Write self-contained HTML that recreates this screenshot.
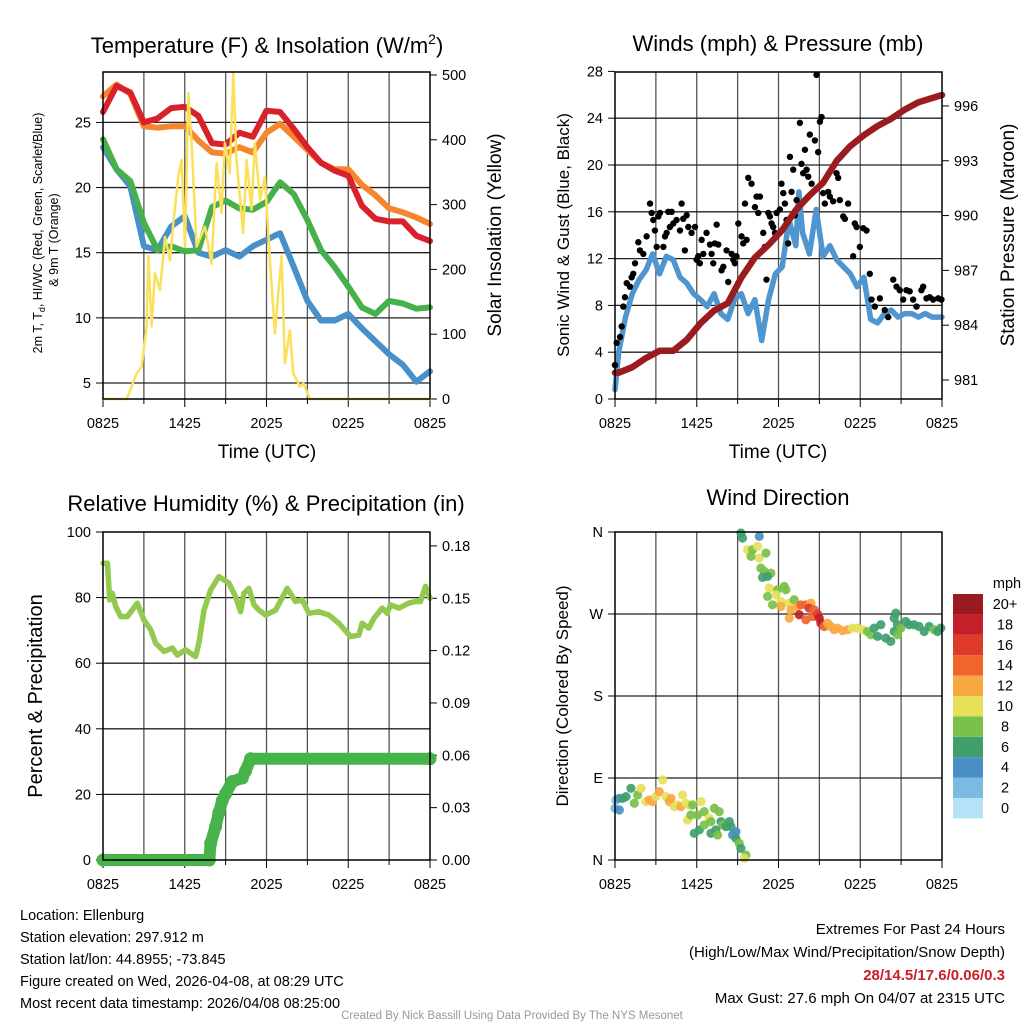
<!DOCTYPE html>
<html><head><meta charset="utf-8"><title>Mesonet Station Charts</title>
<style>
html,body{margin:0;padding:0;background:#fff;}
svg{display:block;font-family:"Liberation Sans",Arial,sans-serif;}
</style></head>
<body>
<svg id="chart" width="1024" height="1024" viewBox="0 0 1024 1024" xmlns="http://www.w3.org/2000/svg">
<rect x="0" y="0" width="1024" height="1024" fill="#fff"/>
<g id="g1"></g>
<g id="g2"></g>
<g id="g3"></g>
<g id="g4"></g>
<text x="267" y="53" font-size="22" text-anchor="middle">Temperature (F) &amp; Insolation (W/m<tspan dy="-9" font-size="14">2</tspan><tspan dy="9">)</tspan></text>
<text x="778" y="51" font-size="22" text-anchor="middle">Winds (mph) &amp; Pressure (mb)</text>
<text x="266" y="511" font-size="22" text-anchor="middle">Relative Humidity (%) &amp; Precipitation (in)</text>
<text x="778" y="505" font-size="22" text-anchor="middle">Wind Direction</text>
<text x="267" y="458" font-size="19" text-anchor="middle">Time (UTC)</text>
<text x="778" y="458" font-size="19" text-anchor="middle">Time (UTC)</text>
<text transform="translate(42,233) rotate(-90)" font-size="12.5" text-anchor="middle">2m T, T<tspan dy="3" font-size="9">d</tspan><tspan dy="-3">, HI/WC (Red, Green, Scarlet/Blue)</tspan></text>
<text transform="translate(58,240) rotate(-90)" font-size="12.5" text-anchor="middle">&amp; 9m T (Orange)</text>
<text transform="translate(501,235) rotate(-90)" font-size="19" text-anchor="middle">Solar Insolation (Yellow)</text>
<text transform="translate(569,235) rotate(-90)" font-size="17" text-anchor="middle">Sonic Wind &amp; Gust (Blue, Black)</text>
<text transform="translate(1014,235) rotate(-90)" font-size="19" text-anchor="middle">Station Pressure (Maroon)</text>
<text transform="translate(42,696) rotate(-90)" font-size="20" text-anchor="middle">Percent &amp; Precipitation</text>
<text transform="translate(568,696) rotate(-90)" font-size="17" text-anchor="middle">Direction (Colored By Speed)</text>
<g font-size="14.5">
<text x="20" y="920">Location: Ellenburg</text>
<text x="20" y="942">Station elevation: 297.912 m</text>
<text x="20" y="964">Station lat/lon: 44.8955; -73.845</text>
<text x="20" y="986">Figure created on Wed, 2026-04-08, at 08:29 UTC</text>
<text x="20" y="1008">Most recent data timestamp: 2026/04/08 08:25:00</text>
</g>
<g font-size="15" text-anchor="end">
<text x="1005" y="934">Extremes For Past 24 Hours</text>
<text x="1005" y="957">(High/Low/Max Wind/Precipitation/Snow Depth)</text>
<text x="1005" y="980" fill="#c8202a" font-weight="bold">28/14.5/17.6/0.06/0.3</text>
<text x="1005" y="1003">Max Gust: 27.6 mph On 04/07 at 2315 UTC</text>
</g>
<text x="512" y="1019" font-size="11.5" fill="#999" text-anchor="middle">Created By Nick Bassill Using Data Provided By The NYS Mesonet</text>
<g id="legend"></g>
</svg>
<script>
// ---------- DATA ----------
const tHours = [0,1,2,3,4,5,6,7,8,9,10,11,12,13,14,15,16,17,18,19,20,21,22,23,24];
const tempRed = [25.8,27.8,27.3,25.0,25.3,26.1,26.2,25.5,23.4,23.3,24.2,23.9,25.9,25.8,24.5,23.1,21.9,21.3,20.9,18.6,17.6,17.4,17.4,16.3,15.9];
const tempOrange = [27.0,27.9,27.2,24.7,24.6,24.7,24.7,23.6,22.7,22.6,23.1,22.7,24.2,24.9,23.9,22.9,21.9,21.4,21.4,20.2,19.4,18.4,18.1,17.7,17.2];
const dewGreen = [23.7,21.4,20.5,17.3,15.2,15.5,15.1,15.2,18.5,19.0,18.4,18.3,18.9,20.4,19.5,17.5,15.2,13.9,12.4,10.8,10.3,11.3,11.1,10.7,10.8];
const chillBlue = [23.1,21.4,20.1,15.5,15.2,17.0,17.8,15.0,14.7,15.2,14.7,15.5,16.0,16.5,13.9,11.3,9.8,9.8,10.3,9.2,8.2,7.2,6.4,5.1,5.9];
const solarHours = [0,1.74,2.47,2.84,3.2,3.33,3.57,3.81,4.18,4.55,4.92,5.16,5.53,5.77,6.02,6.26,6.5,6.87,7.48,7.97,8.34,8.7,8.95,9.31,9.56,9.8,10.29,10.54,10.9,11.15,11.52,11.88,12.25,12.62,12.86,13.11,13.35,13.72,13.96,14.45,14.7,15.19,24];
const solar = [0,0,40,50,112,220,112,194,168,250,214,271,343,369,235,472,395,235,266,209,364,287,395,348,503,369,256,369,292,395,307,343,214,101,163,220,55,106,40,19,24,0,0];

const pressHours = [0,0.27,1.27,2.27,3.27,4.27,5.27,6.27,7.27,8.27,9.27,10.27,11.27,12.27,13.27,14.27,15.27,16.27,17.27,18.27,19.27,20.27,21.27,22.27,24];
const pressure = [981.4,981.4,981.7,982.2,982.6,982.6,983.2,984.1,984.8,985.2,986.6,987.7,988.4,989.2,990.3,991.1,991.8,993.0,993.8,994.4,994.9,995.3,995.8,996.2,996.6];
const windHours = [0,0.27,0.77,1.27,1.77,2.27,2.77,3.27,3.77,4.27,4.77,5.27,5.77,6.27,6.77,7.27,7.77,8.27,8.77,9.27,9.77,10.27,10.77,11.27,11.77,12.27,12.77,13.27,13.5,13.77,14.27,14.77,15.27,15.77,16.27,16.77,17.27,17.77,18.27,18.77,19.27,19.77,20.27,20.77,21.27,21.77,22.27,22.77,23.27,24];
const windSpeed = [0.8,4.0,7.0,9.0,10.2,11.0,12.4,10.7,12.2,11.9,10.4,9.9,9.0,8.5,7.9,9.0,7.3,6.8,8.5,9.0,7.3,8.5,5.0,8.5,10.7,11.3,15.3,13.1,17.7,14.2,12.4,16.2,12.2,13.1,11.9,11.3,10.7,9.6,10.4,6.8,6.5,7.3,7.6,7.0,7.3,7.3,7.0,7.3,7.0,7.0];
const gustHours = [0,.12,.37,.49,.61,.73,.86,1.1,1.22,1.34,1.47,1.71,1.83,2.08,2.32,2.57,2.69,2.81,2.93,3.06,3.18,3.3,3.55,3.67,3.79,3.91,4.03,4.16,4.28,4.52,4.77,4.89,5.01,5.13,5.26,5.38,5.62,5.87,5.99,6.11,6.23,6.36,6.48,6.72,6.97,7.09,7.21,7.33,7.46,7.58,7.82,7.95,8.19,8.31,8.56,8.68,8.8,8.92,9.05,9.29,9.41,9.54,9.66,9.78,10.02,10.27,10.39,10.51,10.64,10.88,11.0,11.12,11.25,11.37,11.49,11.61,11.74,11.86,12.1,12.22,12.35,12.47,12.59,12.71,12.84,12.96,13.08,13.2,13.33,13.45,13.57,13.69,13.81,13.94,14.06,14.18,14.3,14.43,14.67,14.79,14.91,15.04,15.16,15.28,15.4,15.65,15.77,16.01,16.26,16.38,16.5,16.75,16.87,17.11,17.48,17.6,17.73,17.97,18.22,18.46,18.7,18.83,19.07,19.44,19.8,20.05,20.42,20.66,20.9,21.15,21.39,21.63,21.88,22.13,22.49,22.62,22.86,23.1,23.35,23.72,23.96];
const gust = [2.9,4.8,5.3,6.2,7.9,8.7,9.9,9.6,10.4,10.7,11.6,13.4,12.7,12.4,13.9,16.7,15.9,15.3,14.4,13.0,15.6,15.9,13.0,13.9,14.2,16.0,14.7,16.0,15.0,15.3,14.4,16.7,15.4,12.7,15.7,14.7,14.2,14.7,11.9,12.2,11.6,13.6,12.4,14.2,13.2,12.4,11.6,13.3,14.9,13.2,11.0,11.3,12.7,10.0,12.4,11.9,11.6,12.2,15.0,13.9,13.3,16.7,13.6,18.9,18.4,16.4,17.3,15.9,17.3,14.2,13.0,10.2,15.9,15.6,15.0,14.7,14.2,15.9,16.2,18.4,17.6,16.7,15.3,13.3,20.7,17.7,19.6,15.7,17.0,16.4,23.6,20.1,19.3,21.3,19.6,19.0,22.6,18.4,22.1,27.7,21.1,23.7,24.1,17.6,16.7,17.7,17.3,16.9,19.3,18.9,17.0,15.6,15.4,16.7,12.2,15.0,14.7,13.0,14.6,14.4,10.7,8.5,7.9,8.6,7.6,7.0,10.2,9.6,9.3,8.5,9.3,9.2,8.5,7.9,9.3,9.6,8.6,8.7,8.5,8.6,8.5];

const rhHours = [0,.32,.49,.68,.93,1.3,1.78,2.52,3.0,3.5,3.86,4.47,5.09,5.45,6.06,6.8,7.04,7.41,7.9,8.51,9.24,9.73,10.1,10.34,10.71,11.08,11.44,11.93,12.67,13.52,14.13,14.62,15.11,15.84,16.58,17.31,18.17,18.78,19.02,19.51,19.88,20.49,20.86,21.1,21.71,22.44,22.93,23.3,23.67,24];
const rh = [90.5,90.5,79.3,81.3,77.3,74.2,74.2,78.3,73.2,70.2,66.1,63.6,64.6,62.5,64.1,62.0,66.1,76.2,82.3,86.4,84.4,80.3,75.7,81.3,82.8,77.8,76.2,74.7,76.2,82.8,78.8,79.3,75.2,75.7,74.7,72.2,68.1,68.6,72.2,70.7,73.7,76.8,75.2,77.8,76.8,78.3,78.8,78.8,83.4,79.8];
const precipHours = [0,7.8,7.9,8.26,8.5,8.75,9.0,9.49,10.22,10.46,10.83,24];
const precip = [0,0,0.0095,0.019,0.027,0.034,0.038,0.045,0.047,0.051,0.058,0.058];

const dirHours = [0,0.07,0.32,0.32,0.56,0.81,1.17,1.42,1.66,1.91,2.27,2.52,2.76,3.0,3.25,3.5,3.74,3.99,4.11,4.35,4.6,4.84,4.96,5.21,5.45,5.7,5.33,5.57,6.06,6.31,6.55,6.92,7.04,7.29,7.65,7.78,7.9,8.14,8.39,8.51,8.63,8.88,8.88,9.12,9.24,9.61,9.49,5.82,6.19,6.55,7.04,7.41,7.53,
 9.24,9.36,10.59,9.73,10.1,10.46,10.59,9.98,11.08,10.71,10.95,11.44,10.83,11.2,11.32,11.93,12.42,12.54,11.2,11.81,12.18,11.56,12.18,12.79,13.15,13.4,13.64,14.01,14.38,12.91,12.79,13.52,14.01,14.25,14.62,14.5,14.87,14.99,15.11,15.35,15.6,15.84,16.09,16.33,16.7,17.07,17.43,17.8,18.17,18.53,18.78,19.02,19.27,19.51,19.88,20.24,20.49,20.61,20.73,20.98,21.34,21.59,21.96,22.32,22.69,23.06,23.42,23.67,23.91,20.49,20.73];
const dirDeg = [56.8,65.9,54.9,67.7,67.7,69.6,78.7,62.3,71.4,78.7,64.1,65.9,64.1,69.6,75.1,87.9,69.6,64.1,67.7,58.6,60.4,58.6,71.4,62.3,60.4,60.4,43.9,49.4,49.4,64.1,53.1,45.8,42.1,56.8,53.1,42.1,38.5,36.6,42.1,36.6,27.5,31.1,23.8,18.3,12.8,5.5,1.8,29.3,33.0,38.5,29.3,33.0,27.5,
 358.9,353.4,355.2,340.6,340.6,344.2,331.4,333.2,336.9,320.4,316.8,314.9,310.2,311.3,298.5,296.6,300.3,296.6,289.3,291.1,283.8,280.1,278.3,282.0,285.6,278.3,280.1,280.1,282.0,274.6,265.5,269.2,263.7,276.5,274.6,267.3,269.9,265.5,260.0,256.3,260.0,256.3,252.7,254.5,251.6,252.7,254.5,254.5,252.7,250.8,247.2,254.5,245.4,258.2,243.5,239.9,250.8,271.0,258.2,254.5,261.8,258.2,258.2,256.3,250.8,256.3,252.7,250.8,254.5,265.5,247.2];
const dirSpeed = [2,3,4,4,6,6,7,8,9,10,10,12,13,10,12,10,10,12,13,11,10,13,11,10,10,9,10,8,8,10,9,10,8,8,8,7,8,6,6,6,5,4,6,8,7,8,10,6,7,8,6,7,8,
 7,7,4,10,8,10,10,8,8,8,8,8,6,6,10,8,8,8,8,10,10,8,12,10,8,12,14,14,12,12,12,18,15,16,14,14,17,18,18,14,12,12,12,12,12,12,10,10,10,9,8,6,6,7,6,6,7,6,7,8,6,6,6,7,7,6,8,6,6,6,8];
const legendLabels = ["0","2","4","6","8","10","12","14","16","18","20+"];
const legendColors = ["#b6e3f8","#7cb9e3","#4a8fc6","#3f9f6c","#7ac04a","#e6e05a","#f8a843","#f0652c","#e03a2c","#c3202a","#9a1b1f"];

// ---------- HELPERS ----------
const NS = "http://www.w3.org/2000/svg";
function mk(parent, tag, attrs){ const e=document.createElementNS(NS,tag); for(const k in attrs) e.setAttribute(k,attrs[k]); parent.appendChild(e); return e; }
const xTickLabels = ["0825","1425","2025","0225","0825"];
function timeX(p){ return h => p.x0 + h/24*(p.x1-p.x0); }

function frame(g, p, name){
  for(let i=1;i<8;i++){ const x=p.x0+i*(p.x1-p.x0)/8;
    const l=mk(g,'line',{x1:x,x2:x,y1:p.y0,y2:p.y1,stroke:'#555','stroke-width':1.3});
    
    
  }
  for(let i=0;i<=8;i++){ const x=p.x0+i*(p.x1-p.x0)/8;
    mk(g,'line',{x1:x,x2:x,y1:p.y1,y2:p.y1+(i%2===0?8:5),stroke:'#000','stroke-width':1});
  }
  for(let i=0;i<5;i++){ const x=p.x0+i*(p.x1-p.x0)/4;
    const t=mk(g,'text',{x:x,y:p.y1+29,'font-size':14.5,'text-anchor':'middle'}); t.textContent=xTickLabels[i];
    
    
  }
}
function border(g,p){ mk(g,'rect',{x:p.x0,y:p.y0,width:p.x1-p.x0,height:p.y1-p.y0,fill:'none',stroke:'#000','stroke-width':1.5}); }
function hgrid(g,p,vals,fy,labels,name){
  vals.forEach((v,i)=>{ const y=fy(v);
    if(y>p.y0+1 && y<p.y1-1) mk(g,'line',{x1:p.x0,x2:p.x1,y1:y,y2:y,stroke:'#222','stroke-width':1.3});
    mk(g,'line',{x1:p.x0-7,x2:p.x0,y1:y,y2:y,stroke:'#000','stroke-width':1});
    const t=mk(g,'text',{x:p.x0-12,y:y+5,'font-size':14.5,'text-anchor':'end'}); t.textContent=labels[i];
    
    
  });
}
function rightAxis(g,p,vals,fy,labels,name){
  vals.forEach((v,i)=>{ const y=fy(v);
    mk(g,'line',{x1:p.x1,x2:p.x1+7,y1:y,y2:y,stroke:'#000','stroke-width':1});
    const t=mk(g,'text',{x:p.x1+12,y:y+5,'font-size':14.5,'text-anchor':'start'}); t.textContent=labels[i];
    
    
  });
}
function path(g,xs,ys,fx,fy,stroke,w,name){
  let d=''; for(let i=0;i<Math.min(xs.length,ys.length);i++){ d+=(i?'L':'M')+fx(xs[i]).toFixed(1)+','+fy(ys[i]).toFixed(1); }
  const e=mk(g,'path',{d:d,fill:'none',stroke:stroke,'stroke-width':w,'stroke-linejoin':'round','stroke-linecap':'round'});
  
  
  return e;
}

// ---------- PANEL 1 ----------
(function(){
  const g=document.getElementById('g1'); const p={x0:103,x1:430,y0:72,y1:399};
  const fx=timeX(p); const fy=T=>383-(T-5)*13.03; const fw=W=>399-W*0.648;
  frame(g,p,'temp');
  hgrid(g,p,[5,10,15,20,25],fy,["5","10","15","20","25"],'temp');
  rightAxis(g,p,[0,100,200,300,400,500],fw,["0","100","200","300","400","500"],'solar');
  path(g,tHours,chillBlue,fx,fy,'#4a90c8',6,'windchill-line');
  path(g,tHours,dewGreen,fx,fy,'#46b04a',6,'dewpoint-line');
  path(g,tHours,tempOrange,fx,fy,'#f5862e',6,'temp-9m-line');
  path(g,tHours,tempRed,fx,fy,'#d8212a',6,'temp-2m-line');
  path(g,solarHours,solar,fx,fw,'#fbe05a',2.5,'solar-line');
  border(g,p);
})();

// ---------- PANEL 2 ----------
(function(){
  const g=document.getElementById('g2'); const p={x0:615,x1:942,y0:72,y1:399};
  const fx=timeX(p); const fy=w=>399-w*11.7; const fp=v=>380-(v-981)*18.27;
  frame(g,p,'winds');
  hgrid(g,p,[0,4,8,12,16,20,24,28],fy,["0","4","8","12","16","20","24","28"],'winds');
  rightAxis(g,p,[981,984,987,990,993,996],fp,["981","984","987","990","993","996"],'pressure');
  path(g,windHours,windSpeed,fx,fy,'#4f96d0',5.5,'wind-speed-line');
  const gg=mk(g,'g',{});
  
  
  for(let i=0;i<Math.min(gustHours.length,gust.length);i++){
    const c=mk(gg,'circle',{cx:fx(gustHours[i]),cy:fy(gust[i]),r:3.2,fill:'#000'});
    
    
  }
  path(g,pressHours,pressure,fx,fp,'#9b1c1f',6.5,'pressure-line');
  border(g,p);
})();

// ---------- PANEL 3 ----------
(function(){
  const g=document.getElementById('g3'); const p={x0:103,x1:430,y0:532,y1:860};
  const fx=timeX(p); const fy=v=>860-v*3.28; const fr=v=>860-v*1745;
  frame(g,p,'humidity');
  hgrid(g,p,[0,20,40,60,80,100],fy,["0","20","40","60","80","100"],'humidity');
  rightAxis(g,p,[0,0.03,0.06,0.09,0.12,0.15,0.18],fr,["0.00","0.03","0.06","0.09","0.12","0.15","0.18"],'precip');
  path(g,precipHours,precip,fx,fr,'#47b34b',12,'precip-line');
  for(let i=0;i<precipHours.length;i++){
    const c=mk(g,'circle',{cx:fx(precipHours[i]),cy:fr(precip[i]),r:6.5,fill:'#47b34b'});
    
    
  }
  path(g,rhHours,rh,fx,fy,'#93c94f',5.5,'humidity-line');
  border(g,p);
})();

// ---------- PANEL 4 ----------
(function(){
  const g=document.getElementById('g4'); const p={x0:615,x1:942,y0:532,y1:860};
  const fx=timeX(p); const fy=d=>860-d/360*328;
  frame(g,p,'direction');
  hgrid(g,p,[0,90,180,270,360],fy,["N","E","S","W","N"],'direction');
  for(let i=0;i<Math.min(dirHours.length,dirDeg.length,dirSpeed.length);i++){
    const k=Math.min(10,Math.floor(dirSpeed[i]/2));
    const c=mk(g,'circle',{cx:fx(dirHours[i]),cy:fy(dirDeg[i]),r:4.6,fill:legendColors[k],'fill-opacity':0.92});
    
    
  }
  border(g,p);
  const lg=document.getElementById('legend');
  const t0=mk(lg,'text',{x:1007,y:588,'font-size':14.5,'text-anchor':'middle'}); t0.textContent='mph';
  
  
  for(let i=0;i<legendLabels.length;i++){
    const y=594+(10-i)*20.4;
    const r=mk(lg,'rect',{x:953,y:y,width:30,height:20.4,fill:legendColors[i]});
    
    
    const t=mk(lg,'text',{x:1005,y:y+15,'font-size':14.5,'text-anchor':'middle'}); t.textContent=legendLabels[i];
    
    
  }
})();
</script>
</body></html>
